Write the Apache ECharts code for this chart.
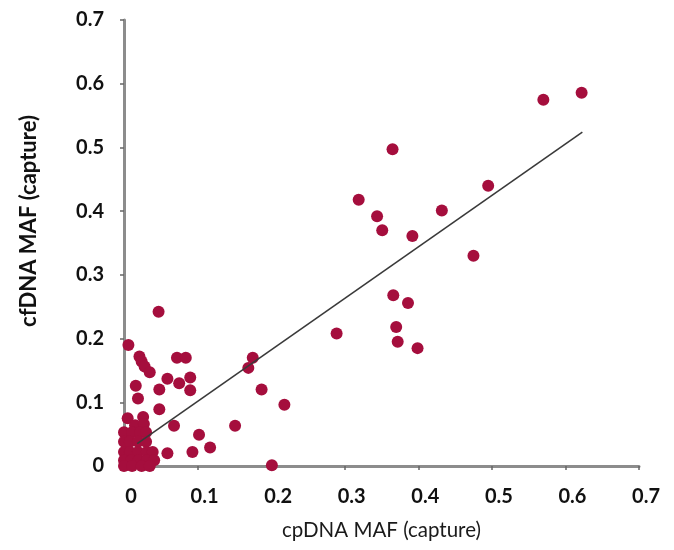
<!DOCTYPE html>
<html>
<head>
<meta charset="utf-8">
<script src="https://cdn.jsdelivr.net/npm/echarts@6/dist/echarts.min.js"></script>
<style>
html,body{margin:0;padding:0;background:#fff;}
#chart{width:674px;height:550px;}
</style>
</head>
<body>
<div id="chart"></div>
<script>
// cpDNA MAF (x) and cfDNA MAF (y)
const cpDNA = [
  0.047, 0.006, 0.021, 0.024, 0.028, 0.035, 0.016, 0.019, 0.048, 0.059,
  0.072, 0.084, 0.075, 0.090, 0.090, 0.048, 0.068, 0.102, 0.117, 0.093,
  0.059, 0.151, 0.187, 0.218, 0.201, 0.169, 0.175, 0.289, 0.365, 0.319,
  0.344, 0.351, 0.392, 0.432, 0.495, 0.475, 0.366, 0.386, 0.370, 0.372,
  0.399, 0.570, 0.622,
  // dense cluster near the origin
  0.005, 0.026, 0.015, 0.027,
  0.000, 0.011, 0.022, 0.030,
  0.000, 0.008, 0.019, 0.030,
  0.000, 0.008, 0.019, 0.031, 0.039,
  0.000, 0.010, 0.020, 0.031, 0.041,
  0.000, 0.011, 0.024, 0.035
];
const cfDNA = [
  0.242, 0.190, 0.172, 0.164, 0.156, 0.147, 0.126, 0.106, 0.120, 0.137,
  0.170, 0.170, 0.130, 0.139, 0.119, 0.089, 0.063, 0.049, 0.029, 0.022,
  0.020, 0.063, 0.120, 0.096, 0.001, 0.154, 0.170, 0.208, 0.497, 0.418,
  0.392, 0.370, 0.361, 0.401, 0.440, 0.330, 0.268, 0.256, 0.218, 0.195,
  0.185, 0.575, 0.586,
  0.075, 0.077, 0.064, 0.066,
  0.053, 0.053, 0.053, 0.053,
  0.038, 0.038, 0.038, 0.038,
  0.022, 0.022, 0.022, 0.022, 0.022,
  0.009, 0.009, 0.009, 0.009, 0.009,
  0.000, 0.000, 0.000, 0.000
];
// Trend line endpoints (x, y)
const trendX = [0.018, 0.623];
const trendY = [0.035, 0.524];
const tickLabels = ['0', '0.1', '0.2', '0.3', '0.4', '0.5', '0.6', '0.7'];
const xTitle = 'cpDNA MAF (capture)';
const yTitle = 'cfDNA MAF (capture)';

const points = cpDNA.map((x, i) => [x, cfDNA[i]]);
const trend = trendX.map((x, i) => [x, trendY[i]]);

function fmt(v) {
  const idx = Math.round(v * 10);
  return tickLabels[idx] !== undefined ? tickLabels[idx] : '';
}

const chart = echarts.init(document.getElementById('chart'));
const axisCommon = {
  type: 'value', min: 0, max: 0.7, interval: 0.1,
  splitLine: { show: false },
  axisLine: { show: true, lineStyle: { color: '#8c8c8c', width: 3 } },
  axisTick: { show: true, length: 4, lineStyle: { color: '#666', width: 1.5 } },
  axisLabel: {
    formatter: fmt, color: '#111', fontSize: 20, fontWeight: 'bold',
    fontFamily: 'Lato'
  },
  nameLocation: 'middle',
  nameTextStyle: { color: '#1a1a1a', fontSize: 20, fontFamily: 'Lato' }
};
chart.setOption({
  backgroundColor: '#ffffff',
  animation: false,
  grid: { left: 124, right: 35, top: 20, bottom: 84, containLabel: false },
  xAxis: Object.assign({}, axisCommon, {
    name: xTitle, nameGap: 54,
    axisLabel: Object.assign({}, axisCommon.axisLabel, { margin: 21, padding: [0, 0, 0, 14] }),
    nameTextStyle: Object.assign({}, axisCommon.nameTextStyle, { fontWeight: 'normal', fontSize: 20.5 })
  }),
  yAxis: Object.assign({}, axisCommon, {
    name: yTitle, nameGap: 84,
    axisLabel: Object.assign({}, axisCommon.axisLabel, { margin: 20 }),
    nameTextStyle: Object.assign({}, axisCommon.nameTextStyle, {
      fontWeight: 'bold', color: '#111', fontSize: 22, padding: [0, 0, 0, 44]
    })
  }),
  series: [
    {
      type: 'scatter', data: points, symbolSize: 12, clip: false,
      itemStyle: { color: '#a50e3d', opacity: 1 },
      z: 2
    },
    {
      type: 'line', data: trend, showSymbol: false, symbol: 'none',
      lineStyle: { color: '#3a3a3a', width: 1.6 }, z: 3, silent: true
    }
  ]
});
</script>
</body>
</html>
